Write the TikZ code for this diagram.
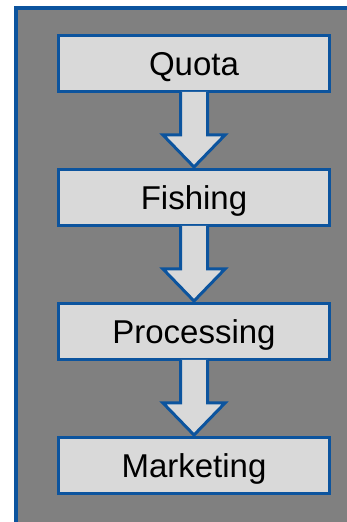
\documentclass[tikz,border=0pt]{standalone}
\usepackage{fontspec}
\setmainfont{Liberation Sans}
\usetikzlibrary{positioning,calc}
\definecolor{frameblue}{RGB}{12,84,158}
\definecolor{boxgray}{RGB}{217,217,217}
\definecolor{backgray}{RGB}{128,128,128}
\tikzset{
  stagebox/.style={draw=frameblue, fill=boxgray, line width=3pt, outer sep=0pt,
    minimum width=271pt, minimum height=56pt, text height=23.6pt, text depth=0pt,
    font=\fontsize{33}{38}\selectfont},
  blockarrow/.style={draw=frameblue, fill=boxgray, line width=3pt, line join=miter}
}
\begin{document}
\begin{tikzpicture}[x=1pt,y=1pt,node distance=78pt]
\useasboundingbox (0,0) rectangle (347,522);
\fill [backgray] (16,-5) rectangle (352,514);
\draw [frameblue, line width=4pt] (16,-5) -- (16,514) -- (352,514);

\node[stagebox] (quota) at (194,458) {Quota};
\node[stagebox, below=of quota] (fishing) {Fishing};
\node[stagebox, below=of fishing] (processing) {Processing};
\node[stagebox, below=of processing] (marketing) {Marketing};

% block arrows between the stages
\foreach \a/\b in {quota/fishing, fishing/processing, processing/marketing}
  \draw [blockarrow] ($(\a.south)+(-13.5,0)$) -- ($(\a.south)+(-13.5,-43)$)
    -- ($(\a.south)+(-31,-43)$) -- ($(\b.north)+(0,3)$)
    -- ($(\a.south)+(31,-43)$) -- ($(\a.south)+(13.5,-43)$)
    -- ($(\a.south)+(13.5,0)$);

\end{tikzpicture}
\end{document}
